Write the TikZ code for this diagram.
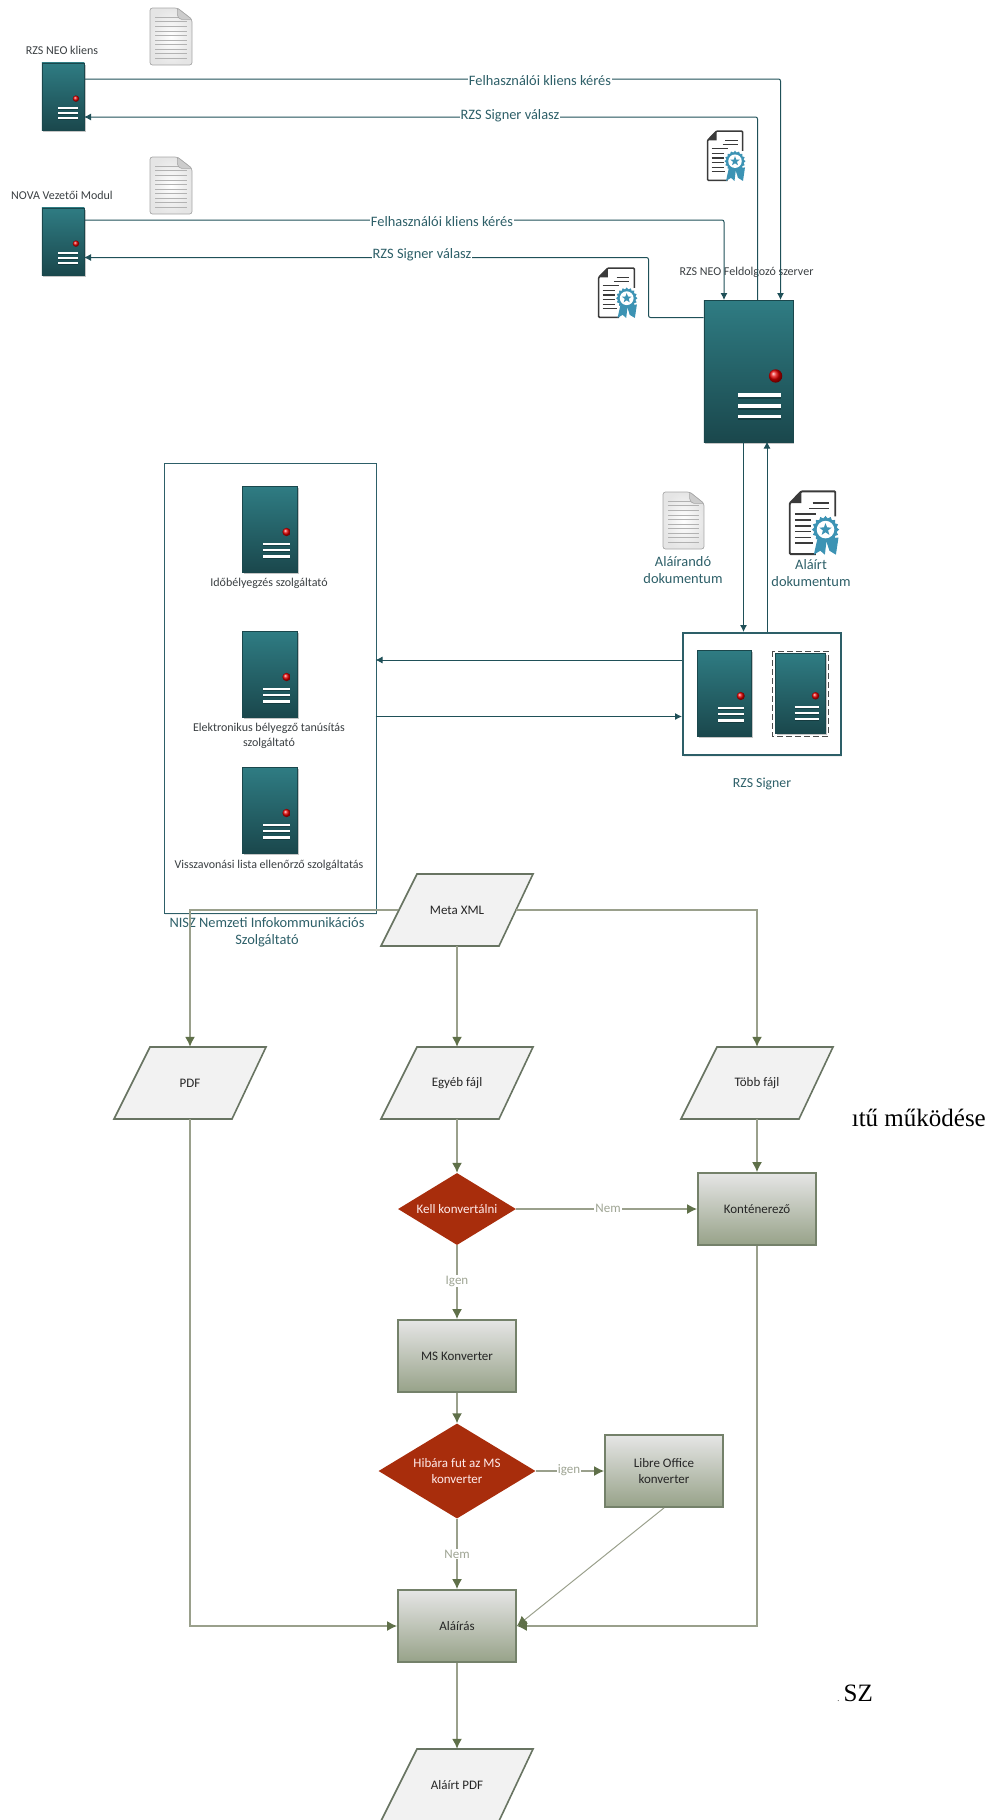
\documentclass[tikz,border=0pt]{standalone}
\usepackage{fontspec}
\setmainfont{Carlito}
\newfontfamily\timesfont{Liberation Serif}
\usepackage{tikz}
\usetikzlibrary{arrows.meta,shapes.geometric,shadows}
\definecolor{srvtop}{HTML}{2F7C83}
\definecolor{srvbot}{HTML}{1A474C}
\definecolor{tealline}{HTML}{1F5058}
\definecolor{tealtext}{HTML}{2D5F68}
\definecolor{darktext}{HTML}{3A3F42}
\definecolor{certblue}{HTML}{3C93B4}
\definecolor{certdark}{HTML}{3A3A3A}
\definecolor{flowline}{HTML}{9AA08C}
\definecolor{flowtip}{HTML}{5F7049}
\definecolor{flowedge}{HTML}{74816A}
\definecolor{flowlabel}{HTML}{9FA594}
\definecolor{redbox}{HTML}{A82D0C}
\newcommand{\fs}[2]{\fontsize{#1}{#2}\selectfont}
\tikzstyle{srvbox} = [draw=srvbot, line width=0.8pt, top color=srvtop, bottom color=srvbot, rectangle, inner sep=0pt, anchor=north west, drop shadow={opacity=0.45, shadow xshift=1.5pt, shadow yshift=-2pt}]
\tikzstyle{groupbox} = [draw=tealtext, line width=1.5pt, fill=white, rectangle, inner sep=0pt, anchor=north west, drop shadow={opacity=0.12, shadow xshift=1pt, shadow yshift=-2pt}]
\tikzstyle{srvlabel} = [text=darktext, font=\fs{12}{15}, align=center, inner sep=0pt]
\tikzstyle{grouplabel} = [text=tealtext, font=\fs{14.4}{17}, align=center, inner sep=0pt]
\tikzstyle{wirelabel} = [text=tealtext, font=\fs{14.4}{17}, fill=white, inner sep=1pt]
\tikzstyle{wire} = [draw=tealline, line width=1pt, rounded corners=2pt, -{Latex[length=7pt,width=7pt]}]
\tikzstyle{flow} = [draw=flowline, line width=1.5pt, -{Latex[length=10pt,width=10pt,color=flowtip]}]
\tikzstyle{flowlab} = [text=flowlabel, font=\fs{13}{15}, fill=white, inner sep=1pt]
\tikzstyle{iofill} = [draw=flowedge!80!darktext, line width=1.6pt, fill=black!5!white, line join=miter]
\tikzstyle{iotext} = [minimum width=118pt, minimum height=72pt, inner sep=0pt, font=\fs{13}{16.5}, text=black!85]
\tikzstyle{procbox} = [draw=flowedge, line width=1.8pt, top color=black!10!white, bottom color=flowtip!65!white, rectangle, minimum width=118pt, minimum height=72pt, inner sep=0pt, align=center, font=\fs{13}{16.5}, text=black!85]
\tikzstyle{decision} = [fill=redbox, diamond, inner sep=0pt, align=center, font=\fs{13}{16.5}, text=white!92!red]
\tikzstyle{stray} = [text=black, font=\timesfont\fs{25}{30}, inner sep=0pt]
% name, left, top, width, height
\newcommand{\srv}[5]{
  \node[srvbox, minimum width=#4pt, minimum height=#5pt] (#1) at (#2,#3) {};
  \begin{scope}[shift={(#1.north west)},x=#4pt,y=-#5pt]
    \shade[ball color=red!90!black] (.81,.535) circle[radius={0.075*#4pt}];
    \foreach \b in {.67,.745,.82} {
      \draw[black, opacity=.25, line width={0.05*#4pt}] (.39,\b+.012) -- (.87,\b+.012);
      \draw[white, line width={0.04*#4pt}] (.39,\b) -- (.87,\b);
    }
  \end{scope}
}
% left, top, width, height
\newcommand{\docicon}[4]{
  \begin{scope}[shift={(#1,#2)},x=#3pt,y=-#4pt]
    \draw[draw=black!35, line width=.7pt, inner color=white, outer color=black!10, rounded corners=2.5pt] (0,0) -- (.65,0) -- (1,.2) -- (1,1) -- (0,1) -- cycle;
    \foreach \b in {.16,.24,...,.95}
      \draw[black!30, line width=.6pt] (.12,\b) -- (.88,\b);
    \draw[draw=black!35, fill=black!20, line width=.6pt, rounded corners=1.5pt] (.65,0) -- (1,.2) -- (.72,.2) -- (.65,.14) -- cycle;
  \end{scope}
}
% name, left, top, width, height
\newcommand{\certicon}[5]{
  \begin{scope}[shift={(#2,#3)},x=#4pt,y=-#5pt]
    \draw[certdark, line width={0.03*#4pt}, rounded corners=1pt] (.55,.97) -- (.15,.97) -- (.15,.2) -- (.33,.02) -- (.85,.02) -- (.85,.4);
    \fill[certdark] (.15,.2) -- (.33,.02) -- (.33,.2) -- cycle;
    \foreach \xa/\xb/\b in {.5/.75/.2, .45/.75/.28, .23/.55/.36, .23/.47/.45, .23/.47/.54, .23/.47/.63, .23/.47/.72, .23/.5/.8}
      \draw[certdark, line width={0.028*#4pt}] (\xa,\b) -- (\xb,\b);
    \fill[certblue] (.58,.72) -- (.52,.98) -- (.62,.92) -- (.69,.98) -- (.72,.74) -- cycle;
    \fill[certblue] (.7,.74) -- (.76,.92) -- (.86,.98) -- (.9,.72) -- cycle;
    \node[star, star points=16, star point ratio=1.2, fill=certblue, inner sep=0pt, minimum size={0.42*#4pt}] (#1ring) at (.7,.6) {};
    \fill[white] (.7,.6) circle[radius={0.135*#4pt}];
    \node[star, star points=5, star point ratio=2.4, fill=certblue, inner sep=0pt, minimum size={0.2*#4pt}] (#1star) at (.7,.6) {};
  \end{scope}
}
% name, centre, text
\newcommand{\ionode}[3]{
  \draw[iofill, shift={(#2)}] (-40,-36) -- (76,-36) -- (42,36) -- (-76,36) -- cycle;
  \node[iotext] (#1) at (#2) {#3};
}

\begin{document}
\begin{tikzpicture}[x=1pt,y=-1pt]
\useasboundingbox (0,0) rectangle (990,1820);

% clients and the processing server
\srv{neo}{41.5}{62.5}{42.5}{67.5}
\srv{nova}{41.5}{207.5}{42.5}{67.5}
\srv{proc}{703.5}{300}{89}{142}
\node[srvlabel] (neolabel) at (62,50) {RZS NEO kliens};
\node[srvlabel] (novalabel) at (62,195) {NOVA Vezetői Modul};
\node[srvlabel] (proclabel) at (746.5,272) {RZS NEO Feldolgozó szerver};
\docicon{150}{8}{42}{57}
\docicon{150}{157}{42}{57}
\certicon{certa}{700}{130}{50}{52}
\certicon{certb}{591}{267}{51}{52}

% signer and the providers
\node[groupbox, minimum width=158pt, minimum height=122pt] (signer) at (682,632) {};
\srv{signa}{697}{650}{54}{86}
\draw[black!70, dash pattern=on 6pt off 3pt, line width=1pt] (772,651) rectangle (828,736);
\srv{signb}{775}{653}{50}{80}
\node[grouplabel, font=\fs{13.8}{16}] (signerlabel) at (762,784) {RZS Signer};
\node[groupbox, minimum width=212pt, minimum height=450pt] (nisz) at (163.5,462.5) {};
\srv{tsa}{242}{486}{55}{86}
\srv{cert}{242}{631}{55}{86}
\srv{crl}{242}{767}{55}{86}
\node[srvlabel] (tsalabel) at (269,583) {Időbélyegzés szolgáltató};
\node[srvlabel] (certlabel) at (269,735.5) {Elektronikus bélyegző tanúsítás\\szolgáltató};
\node[srvlabel] (crllabel) at (269,865) {Visszavonási lista ellenőrző szolgáltatás};
\node[grouplabel] (niszlabel) at (267,932.5) {NISZ Nemzeti Infokommunikációs\\Szolgáltató};
\docicon{663}{492}{41}{57}
\certicon{certc}{780}{490}{65}{66}
\node[grouplabel] (tosign) at (683,570) {Aláírandó\\dokumentum};
\node[grouplabel] (signed) at (811,573.5) {Aláírt\\dokumentum};

% server side connectors
\coordinate (neoout) at (84,79);
\coordinate (neoin) at (84,117);
\coordinate (novaout) at (84,220);
\coordinate (novain) at (84,257.5);
\coordinate (procina) at (780.5,300);
\coordinate (procouta) at (757.5,300);
\coordinate (procinb) at (724,300);
\coordinate (procoutb) at (703.5,317.5);
\draw[wire] (neoout) -| (procina);
\draw[wire] (procouta) |- (neoin);
\draw[wire] (novaout) -| (procinb);
\draw[wire] (procoutb) -- (648.5,317.5) -- (648.5,257.5) -- (novain);
\node[wirelabel] (reqa) at (540,81) {Felhasználói kliens kérés};
\node[wirelabel] (respa) at (510,116) {RZS Signer válasz};
\node[wirelabel] (reqb) at (442,222) {Felhasználói kliens kérés};
\node[wirelabel] (respb) at (422,255) {RZS Signer válasz};
\coordinate (procdown) at (743.5,441.5);
\coordinate (signerin) at (743.5,632);
\coordinate (signerup) at (767,632);
\coordinate (procup) at (767,441.5);
\draw[wire] (procdown) -- (signerin);
\draw[wire] (signerup) -- (procup);
\coordinate (signerleft) at (682,660);
\coordinate (niszright) at (375.5,660);
\coordinate (niszback) at (375.5,716.5);
\coordinate (signerback) at (682,716.5);
\draw[wire] (signerleft) -- (niszright);
\draw[wire] (niszback) -- (signerback);

% flow chart
\ionode{meta}{457,910}{Meta XML}
\ionode{pdf}{190,1083}{PDF}
\ionode{other}{457,1083}{Egyéb fájl}
\ionode{multi}{757,1083}{Több fájl}
\node[decision, minimum width=118pt, minimum height=72pt, shape aspect=1.64] (convq) at (457,1209) {Kell konvertálni};
\node[procbox] (konten) at (757,1209) {Konténerező};
\node[procbox] (msconv) at (457,1356) {MS Konverter};
\node[decision, minimum width=157pt, minimum height=95pt, shape aspect=1.65] (failq) at (457,1471) {Hibára fut az MS\\konverter};
\node[procbox] (libre) at (664,1471) {Libre Office\\konverter};
\node[procbox] (sign) at (457,1626) {Aláírás};
\ionode{signedpdf}{457,1785}{Aláírt PDF}

\draw[flow] (meta.west) -| (pdf.north);
\draw[flow] (meta.south) -- (other.north);
\draw[flow] (meta.east) -| (multi.north);
\draw[flow] (other.south) -- (convq.north);
\draw[flow] (multi.south) -- (konten.north);
\draw[flow] (convq.east) -- (konten.west);
\draw[flow] (convq.south) -- (msconv.north);
\draw[flow] (msconv.south) -- (failq.north);
\draw[flow] (failq.east) -- (libre.west);
\draw[flow] (failq.south) -- (sign.north);
\draw[flow] (pdf.south) |- (sign.west);
\draw[flow] (konten.south) |- (sign.east);
\draw[flow, line width=1pt] (libre.south) -- (sign.east);
\draw[flow] (sign.south) -- (signedpdf.north);
\node[flowlab] (nema) at (608,1208) {Nem};
\node[flowlab] (igena) at (457,1281) {Igen};
\node[flowlab] (igenb) at (569,1470) {igen};
\node[flowlab] (nemb) at (457,1554) {Nem};

% text left over from the page behind
\node[stray, anchor=east] (straya) at (986,1118) {ıtű működése};
\node[stray, anchor=east] (strayb) at (873,1693) {{\fs{8}{8}.}\,SZ};
\end{tikzpicture}
\end{document}
